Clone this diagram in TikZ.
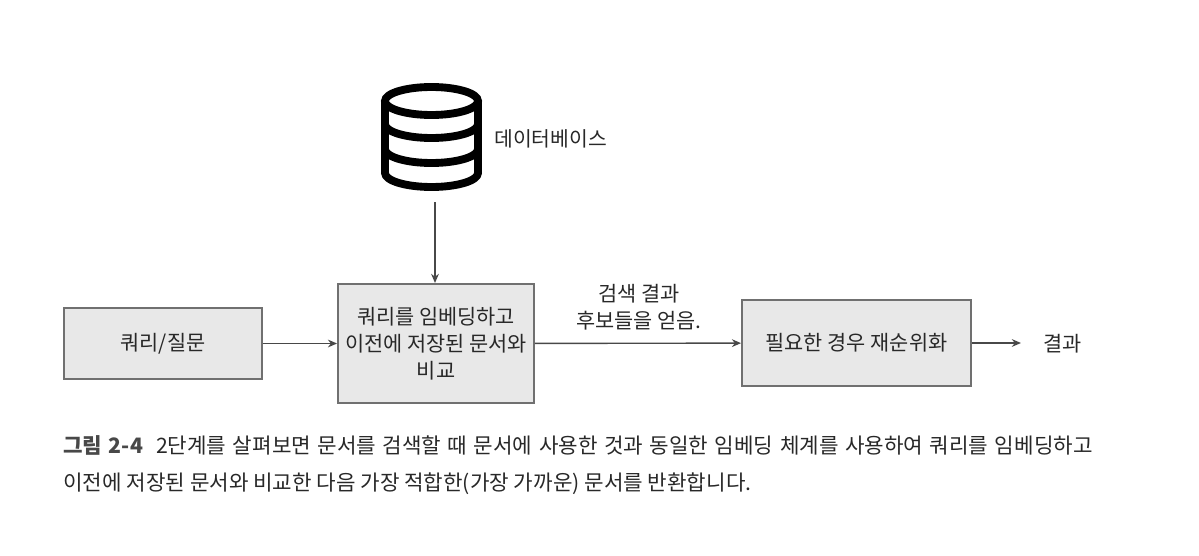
\documentclass[tikz,border=0pt]{standalone}
\usepackage{fontspec}
\setmainfont{Noto Sans CJK KR}
\usetikzlibrary{arrows.meta, positioning}
\definecolor{boxgray}{RGB}{232, 232, 232}
\definecolor{edgegray}{RGB}{112, 112, 112}
\definecolor{inkgray}{RGB}{40, 40, 40}
\tikzstyle{arrow} = [line width=1pt,->,>={Stealth[length=6.5pt,width=5.5pt]},inkgray!85]
\tikzstyle{stepbox} = [draw=edgegray, line width=1.6pt, fill=boxgray, rectangle, align=center, text=inkgray, inner sep=0pt, font=\fontsize{14.8}{19.3}\selectfont]
\tikzstyle{label} = [align=center, text=inkgray, inner sep=0pt, font=\fontsize{14.8}{19.6}\selectfont]

\begin{document}
\begin{tikzpicture}[x=0.025cm, y=0.025cm]
\useasboundingbox (0,0) rectangle (1199,555);
% Database icon
\draw[line width=5.6pt, black] (431.5,454) ellipse [x radius=46.5, y radius=14];
\draw[line width=5.6pt, black, line join=round] (385,454) -- (385,382) arc[start angle=180, end angle=360, x radius=46.5, y radius=14] -- (478,454);
\draw[line width=5.6pt, black] (385,431) arc[start angle=180, end angle=360, x radius=46.5, y radius=14];
\draw[line width=5.6pt, black] (385,406) arc[start angle=180, end angle=360, x radius=46.5, y radius=14];
\node[label, anchor=west, font=\fontsize{14.5}{19.6}\selectfont] (dbtext) at (494,416) {데이터베이스};
\coordinate (dbfoot) at (435,353);

% Step boxes
\node[stepbox, minimum width=198*0.71pt, minimum height=71*0.71pt] (query) at (163,211.5) {쿼리/질문};
\node[stepbox, minimum width=196*0.71pt, minimum height=119*0.71pt] (embed) at (436,211.5) {쿼리를 임베딩하고\\이전에 저장된 문서와\\비교};
\node[stepbox, minimum width=229*0.71pt, minimum height=86*0.71pt] (rerank) at (856.5,212) {필요한 경우 재순위화};
\node[label, anchor=west] (result) at (1043,211.5) {결과};
\coordinate (resultend) at (1021,212);

% Arrows
\draw[arrow] (dbfoot) -- (dbfoot |- embed.north);
\draw[arrow] (query) -- (embed);
\draw[arrow] (embed) -- (rerank);
\draw[arrow] (rerank) -- (resultend);

% Search label
\node[label] (found) at (639,248) {검색 결과\\후보들을 얻음.};

% Caption
\node[anchor=north west, align=left, text=inkgray, inner sep=0pt, font=\fontsize{15.1}{26.3}\selectfont] (caption) at (63,120) {\hbox to 732pt{\textcolor{inkgray!85}{\textbf{그림 2-4}}\ \ 2단계를 살펴보면 문서를 검색할 때 문서에 사용한 것과 동일한 임베딩 체계를 사용하여 쿼리를 임베딩하고}\\이전에 저장된 문서와 비교한 다음 가장 적합한(가장 가까운) 문서를 반환합니다.};
\end{tikzpicture}
\end{document}
